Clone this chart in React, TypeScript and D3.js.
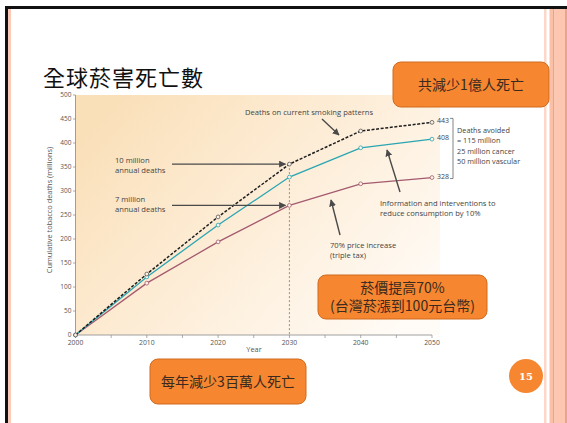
import React from "react";
import * as d3 from "d3";

// Cumulative tobacco deaths (millions) by scenario
const years = [2000, 2010, 2020, 2030, 2040, 2050];
const currentPatterns = [0, 127, 246, 356, 425, 443];
const informationScenario = [0, 121, 229, 329, 390, 408];
const priceScenario = [0, 108, 194, 270, 315, 328];

const xMajorTicks = [2000, 2010, 2020, 2030, 2040, 2050];
const xMinorTicks = [2005, 2015, 2025, 2035, 2045];
const yTicks = [0, 50, 100, 150, 200, 250, 300, 350, 400, 450, 500];

const avoidedNotes = ["Deaths avoided", "= 115 million", "25 million cancer", "50 million vascular"];

const W = 567;
const H = 423;

const ORANGE = "#f6862f";
const ORANGE_EDGE = "#cf6b1f";
const INK = "#444";
const CHART_FONT = "'Open Sans', 'DejaVu Sans', sans-serif";
const CJK_FONT = "'Noto Sans CJK TC', 'Noto Sans CJK SC', sans-serif";
const NOTE_SIZE = 7.6;

const x = d3.scaleLinear().domain([2000, 2050]).range([75.5, 432]);
const y = d3.scaleLinear().domain([0, 500]).range([335, 95]);

type Series = { key: string; values: number[]; color: string; dash?: string; width: number };

const series: Series[] = [
  { key: "price", values: priceScenario, color: "#a35a6f", width: 1.3 },
  { key: "info", values: informationScenario, color: "#2aa5b3", width: 1.3 },
  { key: "current", values: currentPatterns, color: "#1e1e1e", dash: "3,1.6", width: 1.5 },
];

const lineGen = d3
  .line<[number, number]>()
  .x((d) => x(d[0]))
  .y((d) => y(d[1]));

function Arrow({ x1, y1, x2, y2 }: { x1: number; y1: number; x2: number; y2: number }) {
  return (
    <line x1={x1} y1={y1} x2={x2} y2={y2} stroke="#4a4a4a" strokeWidth={1.4} markerEnd="url(#arrowHead)" />
  );
}

function OrangeBox({
  x0,
  y0,
  w,
  h,
  lines,
}: {
  x0: number;
  y0: number;
  w: number;
  h: number;
  lines: string[];
}) {
  const cx = x0 + w / 2;
  const lh = 18;
  const start = y0 + h / 2 - ((lines.length - 1) * lh) / 2 + 5;
  return (
    <g>
      <rect x={x0} y={y0} width={w} height={h} rx={8} ry={8} fill={ORANGE} stroke={ORANGE_EDGE} strokeWidth={1} />
      {lines.map((t, i) => (
        <text
          key={i}
          x={cx}
          y={start + i * lh}
          textAnchor="middle"
          fontFamily={CJK_FONT}
          fontSize={14}
          fill="#3a2a20"
        >
          {t}
        </text>
      ))}
    </g>
  );
}

export default function App() {
  const i2030 = years.indexOf(2030);
  const last = years.length - 1;

  return (
    <svg
      width={W}
      height={H}
      viewBox={`0 0 ${W} ${H}`}
      style={{ position: "absolute", left: 0, top: 0, background: "#fff" }}
    >
      <defs>
        <linearGradient id="plotBg" x1="0" y1="0.2" x2="1" y2="0.8">
          <stop offset="0" stopColor="#fae0b9" />
          <stop offset="0.45" stopColor="#fdecd5" />
          <stop offset="1" stopColor="#fffbf6" />
        </linearGradient>
        <marker id="arrowHead" viewBox="0 0 10 10" refX="9" refY="5" markerWidth="5" markerHeight="5" orient="auto">
          <path d="M0,0 L10,5 L0,10 z" fill="#4a4a4a" />
        </marker>
      </defs>

      {/* slide frame */}
      <rect x={0} y={0} width={W} height={H} fill="#fff" />
      <rect x={5} y={6} width={3} height={H - 6} fill="#111" />
      <rect x={8} y={9} width={3} height={H - 9} fill="#fbc9b7" />
      <rect x={544} y={9} width={2.5} height={H - 9} fill="#fcd8ca" />
      <rect x={549.5} y={9} width={3} height={H - 9} fill="#fbc0a8" />
      <rect x={552.5} y={9} width={2} height={H - 9} fill="#f7a079" />
      <rect x={554.5} y={9} width={10.5} height={H - 9} fill="#fcc6b0" />
      <rect x={565} y={9} width={2} height={H - 9} fill="#e6a58c" />
      <rect x={5} y={6} width={W - 5} height={3} fill="#111" />

      {/* title */}
      <text x={43} y={86} fontFamily={CJK_FONT} fontSize={22} letterSpacing={1} fill="#111">
        全球菸害死亡數
      </text>

      {/* plot background */}
      <rect x={x(2000)} y={y(500)} width={x(2050) - x(2000) + 8} height={y(0) - y(500)} fill="url(#plotBg)" />

      {/* y axis */}
      <line x1={x(2000)} x2={x(2000)} y1={y(0)} y2={y(500)} stroke="#888" strokeWidth={0.8} />
      {yTicks.map((t) => (
        <g key={t}>
          <line x1={x(2000) - 2.5} x2={x(2000)} y1={y(t)} y2={y(t)} stroke="#888" strokeWidth={0.7} />
          <text
            x={x(2000) - 4}
            y={y(t) + 2.3}
            textAnchor="end"
            fontFamily={CHART_FONT}
            fontSize={6.5}
            fill="#555"
          >
            {t}
          </text>
        </g>
      ))}
      <text
        transform={`translate(52, ${(y(0) + y(500)) / 2 - 5}) rotate(-90)`}
        textAnchor="middle"
        fontFamily={CHART_FONT}
        fontSize={7.4}
        fill="#555"
      >
        Cumulative tobacco deaths (millions)
      </text>

      {/* x axis */}
      <line x1={x(2000)} x2={x(2050)} y1={y(0)} y2={y(0)} stroke="#888" strokeWidth={0.8} />
      {xMajorTicks.map((t) => (
        <g key={t}>
          <line x1={x(t)} x2={x(t)} y1={y(0)} y2={y(0) + 3} stroke="#888" strokeWidth={0.7} />
          <text x={x(t)} y={y(0) + 10} textAnchor="middle" fontFamily={CHART_FONT} fontSize={6.8} fill="#555">
            {t}
          </text>
        </g>
      ))}
      {xMinorTicks.map((t) => (
        <line key={t} x1={x(t)} x2={x(t)} y1={y(0)} y2={y(0) + 3} stroke="#888" strokeWidth={0.7} />
      ))}
      <text x={254} y={352} textAnchor="middle" fontFamily={CHART_FONT} fontSize={7.4} fill="#555">
        Year
      </text>

      {/* 2030 reference line */}
      <line
        x1={x(2030)}
        x2={x(2030)}
        y1={y(currentPatterns[i2030])}
        y2={y(0)}
        stroke="#9a8f85"
        strokeWidth={1}
        strokeDasharray="2,2"
      />

      {/* scenario lines */}
      {series.map((s) => (
        <g key={s.key}>
          <path
            d={lineGen(years.map((yr, i) => [yr, s.values[i]] as [number, number])) || ""}
            fill="none"
            stroke={s.color}
            strokeWidth={s.width}
            strokeDasharray={s.dash}
          />
          {years.map((yr, i) => (
            <circle
              key={yr}
              cx={x(yr)}
              cy={y(s.values[i])}
              r={1.9}
              fill="#fdf3e6"
              stroke={s.key === "current" ? "#555" : s.color}
              strokeWidth={0.8}
            />
          ))}
        </g>
      ))}

      {/* end values and bracket */}
      {series.map((s) => (
        <text
          key={s.key}
          x={437}
          y={y(s.values[last]) + 1}
          fontFamily={CHART_FONT}
          fontSize={7}
          fill={INK}
        >
          {s.values[last]}
        </text>
      ))}
      <path
        d={`M450,${y(currentPatterns[last]) - 4} H453 V${y(priceScenario[last]) + 1} H450`}
        fill="none"
        stroke="#666"
        strokeWidth={0.8}
      />
      {avoidedNotes.map((t, i) => (
        <text key={i} x={457} y={133 + i * 10.3} fontFamily={CHART_FONT} fontSize={7.3} fill={INK}>
          {t}
        </text>
      ))}

      {/* annotations */}
      <text x={245} y={115} fontFamily={CHART_FONT} fontSize={NOTE_SIZE} fill={INK}>
        Deaths on current smoking patterns
      </text>
      <Arrow x1={322} y1={119} x2={339} y2={135} />

      <text fontFamily={CHART_FONT} fontSize={NOTE_SIZE} fill={INK}>
        <tspan x={115} y={163}>10 million</tspan>
        <tspan x={115} y={173}>annual deaths</tspan>
      </text>
      <Arrow x1={172} y1={y(currentPatterns[i2030])} x2={x(2030) - 4} y2={y(currentPatterns[i2030])} />

      <text fontFamily={CHART_FONT} fontSize={NOTE_SIZE} fill={INK}>
        <tspan x={115} y={202}>7 million</tspan>
        <tspan x={115} y={211.5}>annual deaths</tspan>
      </text>
      <Arrow x1={172} y1={y(priceScenario[i2030])} x2={x(2030) - 4} y2={y(priceScenario[i2030])} />

      <text fontFamily={CHART_FONT} fontSize={NOTE_SIZE} fill={INK}>
        <tspan x={380} y={206}>Information and interventions to</tspan>
        <tspan x={380} y={215.5}>reduce consumption by 10%</tspan>
      </text>
      <Arrow x1={400} y1={192} x2={387} y2={150} />

      <text fontFamily={CHART_FONT} fontSize={NOTE_SIZE} fill={INK}>
        <tspan x={330} y={248}>70% price increase</tspan>
        <tspan x={330} y={258}>(triple tax)</tspan>
      </text>
      <Arrow x1={340} y1={235} x2={331} y2={200} />

      {/* call-out boxes */}
      <OrangeBox x0={393} y0={62} w={156} h={45} lines={["共減少1億人死亡"]} />
      <OrangeBox x0={318} y0={275} w={169} h={44} lines={["菸價提高70%", "(台灣菸漲到100元台幣)"]} />
      <OrangeBox x0={150} y0={359} w={156} h={45} lines={["每年減少3百萬人死亡"]} />

      {/* page number */}
      <circle cx={526} cy={376} r={17} fill={ORANGE} />
      <text
        x={526}
        y={380}
        textAnchor="middle"
        fontFamily="'DejaVu Serif', 'Liberation Serif', serif"
        fontWeight="bold"
        fontSize={10}
        fill="#fff"
      >
        15
      </text>
    </svg>
  );
}
